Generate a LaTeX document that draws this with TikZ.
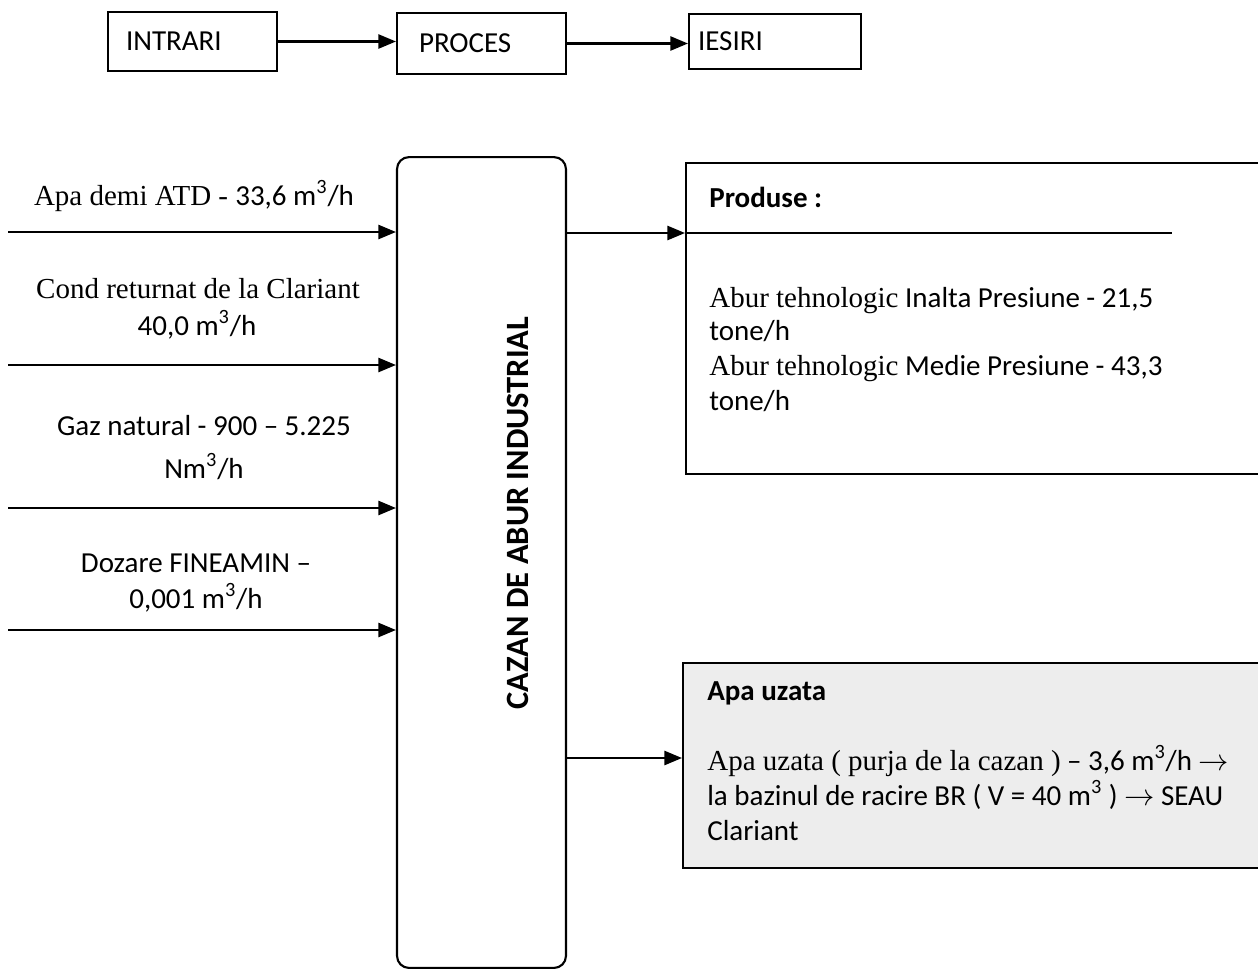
\documentclass[tikz,border=0pt]{standalone}
\usepackage{fontspec}
\setmainfont{Liberation Serif}
\newfontfamily\calfont{Carlito}
\usetikzlibrary{arrows.meta}
\newcommand{\fs}{\fontsize{16.5}{19.8}\selectfont}
\newcommand{\msup}{m\textsuperscript{3}}
\begin{document}
\begin{tikzpicture}[x=0.02cm,y=-0.02cm,
  box/.style={draw, line width=1.2pt, inner sep=0pt},
  arr/.style={line width=1.3pt, -{Triangle[length=10pt,width=8pt]}},
  plain/.style={line width=1.3pt},
  lbl/.style={inner sep=0pt, anchor=base, font=\fs},
  txt/.style={inner sep=0pt, anchor=base west, font=\calfont\fs},
]
\useasboundingbox (0,0) rectangle (1258,971);
\clip (0,0) rectangle (1258,971);

% top chain
\node[box, minimum width=3.38cm, minimum height=1.18cm, text width=2.66cm,
      inner xsep=0.36cm, align=left, font=\calfont\fs] (intrari) at (192.5,41.5) {INTRARI};
\node[box, minimum width=3.38cm, minimum height=1.22cm, text width=2.5cm,
      inner xsep=0.44cm, align=left, font=\calfont\fs] (proces) at (481.5,43.5) {PROCES};
\node[box, minimum width=3.44cm, minimum height=1.1cm, text width=3.08cm,
      inner xsep=0.18cm, align=left, font=\calfont\fs] (iesiri) at (775,41.5) {IESIRI};
\draw[arr] (intrari.east) -- (intrari.east -| proces.west);
\draw[arr] (proces.east) -- (proces.east -| iesiri.west);

% boiler
\node[box, rounded corners=0.24cm, minimum width=3.38cm, minimum height=16.22cm] (cazan) at (481.5,562.5) {};
\node[rotate=90, inner sep=0pt, font=\calfont\bfseries\fontsize{18.5}{21}\selectfont] (cazantxt) at (518,513) {CAZAN DE ABUR INDUSTRIAL};

% inputs
\coordinate (i1) at (8,232);
\coordinate (i2) at (8,365);
\coordinate (i3) at (8,508);
\coordinate (i4) at (8,630);
\draw[arr] (i1) -- (i1 -| cazan.west);
\draw[arr] (i2) -- (i2 -| cazan.west);
\draw[arr] (i3) -- (i3 -| cazan.west);
\draw[arr] (i4) -- (i4 -| cazan.west);

\node[lbl] (l1) at (194,205) {Apa demi ATD - {\calfont 33,6 \msup/h}};
\node[lbl] (l2a) at (198,298) {Cond returnat de la Clariant};
\node[lbl, font=\calfont\fs] (l2b) at (197,335) {40,0 \msup/h};
\node[lbl, font=\calfont\fs] (l3a) at (204,435) {Gaz natural - 900 – 5.225};
\node[lbl, font=\calfont\fs] (l3b) at (204,478) {N\msup/h};
\node[lbl, font=\calfont\fs] (l4a) at (196,572) {Dozare FINEAMIN –};
\node[lbl, font=\calfont\fs] (l4b) at (196,608) {0,001 \msup/h};

% outputs
\node[box, minimum width=14.28cm, minimum height=6.22cm] (produse) at (1043,318.5) {};
\node[box, fill=black!7, minimum width=14.32cm, minimum height=4.1cm] (apa) at (1041,765.5) {};

\coordinate (o1) at (566,233);
\coordinate (o1e) at (1172,233);
\coordinate (o2) at (566,758);
\draw[arr] (o1) -- (o1 -| produse.west);
\draw[plain] (o1 -| produse.west) -- (o1e);
\draw[arr] (o2) -- (o2 -| apa.west);

\node[txt, font=\calfont\bfseries\fs] (pt) at (709,207) {Produse :};
\node[txt] (p1) at (709,307) {{\rmfamily Abur tehnologic} Inalta Presiune - 21,5};
\node[txt] (p2) at (709,340) {tone/h};
\node[txt] (p3) at (709,375) {{\rmfamily Abur tehnologic} Medie Presiune - 43,3};
\node[txt] (p4) at (709,410) {tone/h};

\node[txt, font=\calfont\bfseries\fs] (at) at (707,700) {Apa uzata};
\node[txt] (a1) at (707,770) {{\rmfamily Apa uzata ( purja de la cazan )} – 3,6 \msup/h $\rightarrow$};
\node[txt] (a2) at (707,805) {la bazinul de racire BR ( V = 40 \msup{} ) $\rightarrow$ SEAU};
\node[txt] (a3) at (707,840) {Clariant};
\end{tikzpicture}
\end{document}
